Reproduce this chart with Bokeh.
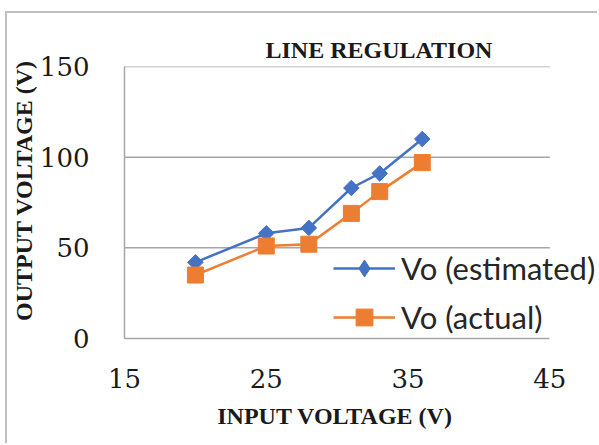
import math
from bokeh.plotting import figure
from bokeh.models import Range1d, FixedTicker, Legend, LegendItem
from bokeh.embed import file_html
from bokeh.resources import INLINE

input_v = [20, 25, 28, 31, 33, 36]
vo_estimated = [42, 58, 61, 83, 91, 110]
vo_actual = [35, 51, 52, 69, 81, 97]
x_ticks = [15, 25, 35, 45]
y_ticks = [0, 50, 100, 150]
title_text = "LINE REGULATION"
x_title = "INPUT VOLTAGE (V)"
y_title = "OUTPUT VOLTAGE (V)"
series_names = ["Vo (estimated)", "Vo (actual)"]

BLUE = "#4472C4"
ORANGE = "#ED7D31"
GRID = "#A6A6A6"
TEXT = "#1a1a1a"
NBSP = "\u00a0"

p = figure(width=592, height=432, output_backend="svg", toolbar_location=None,
           x_range=Range1d(15, 48.5), y_range=Range1d(0, 150),
           min_border_left=114, min_border_right=0, min_border_top=53, min_border_bottom=107)
p.margin = (11, 0, 0, 5)
p.styles = {"border-left": "2px solid #BFBFBF", "border-top": "2px solid #BFBFBF"}
p.outline_line_color = None
p.background_fill_color = "white"
p.border_fill_color = "white"

p.title.text = title_text
p.title.align = "left"
p.title.offset = 141
p.title.standoff = 8
p.title.text_font = "Liberation Serif"
p.title.text_font_style = "bold"
p.title.text_font_size = "24px"
p.title.text_color = TEXT

p.xaxis.ticker = FixedTicker(ticks=x_ticks)
p.yaxis.ticker = FixedTicker(ticks=y_ticks)
p.xaxis.bounds = (x_ticks[0], x_ticks[-1])
p.yaxis.bounds = (y_ticks[0], y_ticks[-1])
for ax in (p.xaxis[0], p.yaxis[0]):
    ax.major_tick_line_color = None
    ax.minor_tick_line_color = None
    ax.axis_line_color = GRID
    ax.axis_line_width = 1.5
    ax.major_label_text_font = "DejaVu Serif"
    ax.major_label_text_font_size = "26px"
    ax.major_label_text_color = TEXT
    ax.axis_label_text_font = "Liberation Serif"
    ax.axis_label_text_font_style = "bold"
    ax.axis_label_text_font_size = "24px"
    ax.axis_label_text_color = TEXT
p.xaxis.major_label_standoff = 24
p.yaxis.major_label_standoff = 29
# pad so the centred titles sit over the 15-45 / 0-150 span as in the reference
p.xaxis.axis_label = x_title + NBSP * 9
p.yaxis.axis_label = NBSP * 4 + y_title
p.xaxis.axis_label_standoff = 12
p.yaxis.axis_label_standoff = 0
p.xgrid.grid_line_color = None
p.ygrid.grid_line_color = None

# horizontal gridlines limited to the x axis extent
p.segment(x0=[x_ticks[0]] * 3, x1=[x_ticks[-1]] * 3, y0=y_ticks[1:], y1=y_ticks[1:],
          line_color=GRID, line_width=1.5)

r1 = p.line(input_v, vo_estimated, line_color=BLUE, line_width=2.5)
d1 = p.scatter(input_v, vo_estimated, marker="diamond", size=14, color=BLUE)
m1 = p.scatter(input_v, vo_estimated, marker="square", angle=math.pi / 4, size=11, color=BLUE)
r2 = p.line(input_v, vo_actual, line_color=ORANGE, line_width=2.5)
m2 = p.scatter(input_v, vo_actual, marker="square", size=16, color=ORANGE)

legend = Legend(items=[LegendItem(label=series_names[0], renderers=[r1, d1]),
                       LegendItem(label=series_names[1], renderers=[r2, m2])],
                location=(209, 0), glyph_width=62, glyph_height=42, spacing=7,
                label_text_font="Lato", label_text_font_size="31px",
                label_text_color="#262626", label_standoff=6, label_height=42,
                background_fill_alpha=0.0, border_line_color=None, padding=0, margin=0)
p.add_layout(legend, "center")

open("out.html", "w").write(file_html(p, INLINE))
